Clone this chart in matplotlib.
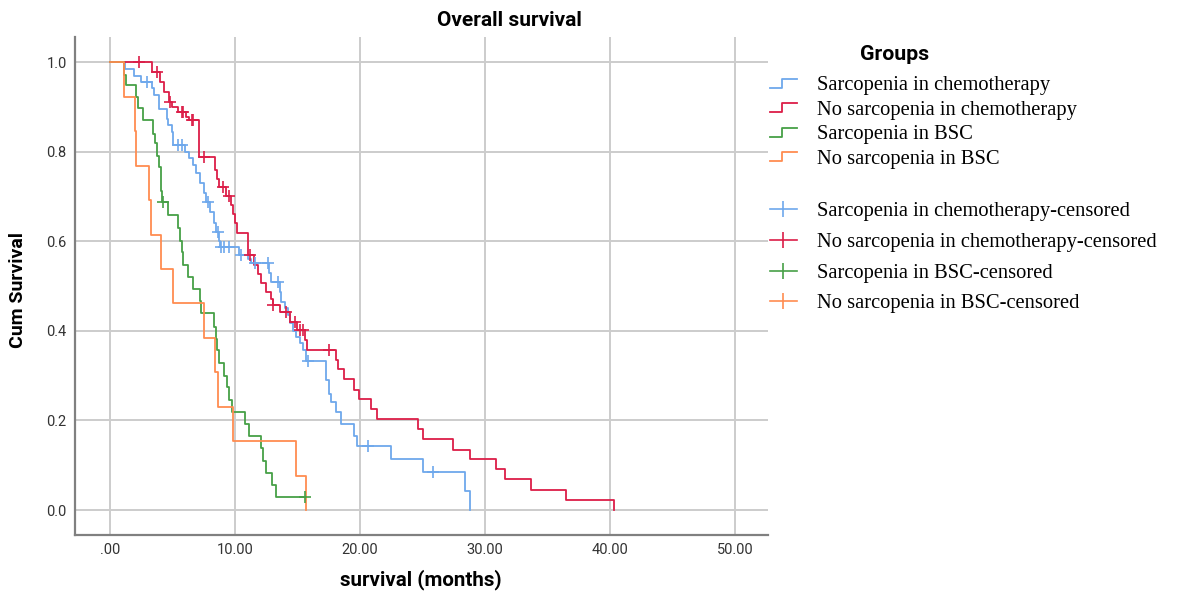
import numpy as np
import matplotlib
matplotlib.use("Agg")
import matplotlib.pyplot as plt
from matplotlib.lines import Line2D
from matplotlib.legend_handler import HandlerBase

# Kaplan-Meier steps (time in months, cumulative survival)
blue_t = [0, 1.2, 1.9, 2.45, 3.35, 3.5, 3.9, 3.95, 4.55, 4.6, 4.95, 5.0, 5.05, 6.0, 6.3, 6.6, 6.9, 7.2, 7.5, 7.7,
          8.0, 8.3, 8.45, 8.7, 8.8, 10.35, 11.07, 11.3, 12.75, 12.9, 13.6, 13.7, 14.0, 14.2, 14.4, 14.6, 14.9, 15.2,
          15.4, 15.7, 17.25, 17.3, 17.5, 17.7, 18.1, 18.5, 19.5, 19.75, 22.5, 25.0, 28.4, 28.8]
blue_s = [1.0, 0.985, 0.97, 0.955, 0.941, 0.926, 0.911, 0.896, 0.874, 0.859, 0.845, 0.83, 0.815, 0.80, 0.785, 0.77,
          0.752, 0.73, 0.707, 0.688, 0.666, 0.64, 0.62, 0.60, 0.588, 0.569, 0.56, 0.551, 0.53, 0.508, 0.487, 0.465,
          0.45, 0.435, 0.417, 0.40, 0.387, 0.372, 0.357, 0.333, 0.31, 0.29, 0.26, 0.242, 0.219, 0.193, 0.165, 0.143,
          0.115, 0.0856, 0.042, 0.0]
blue_c = [2.93, 5.47, 5.73, 7.87, 8.6, 8.9, 9.15, 9.5, 10.45, 11.6, 12.65, 13.47, 15.8, 20.67, 25.87]

red_t = [0, 3.33, 4.0, 4.3, 4.7, 4.95, 5.45, 6.1, 6.3, 7.15, 8.4, 8.55, 8.7, 9.3, 9.7, 9.85, 10.0, 10.13, 11.07,
         11.5, 11.8, 12.1, 12.5, 12.9, 13.0, 13.6, 14.4, 14.98, 15.6, 15.78, 18.05, 18.2, 18.7, 19.5, 19.95, 20.85,
         21.33, 24.6, 25.0, 27.4, 28.8, 30.9, 31.6, 33.7, 36.5, 40.3]
red_s = [1.0, 0.978, 0.956, 0.933, 0.911, 0.90, 0.889, 0.878, 0.87, 0.789, 0.76, 0.74, 0.72, 0.70, 0.68, 0.66, 0.64,
         0.618, 0.569, 0.547, 0.528, 0.506, 0.487, 0.472, 0.458, 0.443, 0.42, 0.402, 0.379, 0.358, 0.336, 0.314,
         0.292, 0.269, 0.247, 0.225, 0.2025, 0.18, 0.158, 0.135, 0.113, 0.091, 0.0685, 0.0446, 0.022, 0.0]
red_c = [2.35, 3.73, 4.8, 5.73, 5.87, 6.53, 6.67, 7.55, 9.05, 9.5, 11.2, 13.07, 14.1, 14.8, 15.2, 15.4, 17.5]

green_t = [0, 1.15, 1.3, 2.1, 2.2, 2.6, 3.4, 3.6, 3.75, 3.9, 4.05, 4.1, 4.15, 4.65, 5.45, 5.6, 5.75, 5.85, 6.2, 6.6,
           7.2, 7.25, 8.3, 8.5, 8.55, 8.72, 9.12, 9.39, 9.55, 9.73, 10.8, 11.15, 12.05, 12.27, 12.5, 12.93, 13.28]
green_s = [1.0, 0.972, 0.949, 0.922, 0.897, 0.87, 0.84, 0.82, 0.79, 0.766, 0.74, 0.713, 0.687, 0.658, 0.63, 0.60,
           0.575, 0.547, 0.52, 0.493, 0.466, 0.439, 0.409, 0.382, 0.357, 0.329, 0.30, 0.275, 0.246, 0.219, 0.193,
           0.165, 0.138, 0.11, 0.083, 0.056, 0.028]
green_c = [4.2, 15.6]

orange_t = [0, 1.1, 2.0, 2.1, 3.1, 3.3, 4.1, 5.0, 7.5, 8.4, 8.6, 9.8, 14.9, 15.7]
orange_s = [1.0, 0.923, 0.846, 0.769, 0.692, 0.615, 0.538, 0.462, 0.385, 0.308, 0.231, 0.154, 0.077, 0.0]
orange_c = []

groups = ["Sarcopenia in chemotherapy", "No sarcopenia in chemotherapy",
          "Sarcopenia in BSC", "No sarcopenia in BSC"]
colors = ["#6ea8ec", "#dc1e48", "#47a047", "#ff8c50"]
x_ticks = [0, 10, 20, 30, 40, 50]
x_ticklabels = [".00", "10.00", "20.00", "30.00", "40.00", "50.00"]
y_ticks = [0.0, 0.2, 0.4, 0.6, 0.8, 1.0]


class StepHandler(HandlerBase):
    # small "_|‾" icon like SPSS uses for survival lines
    def create_artists(self, legend, orig_handle, xdescent, ydescent, width, height, fontsize, trans):
        x0, y0 = -xdescent, -ydescent
        xs = [x0, x0 + 0.45 * width, x0 + 0.45 * width, x0 + width]
        ys = [y0 + 0.2 * height, y0 + 0.2 * height, y0 + 0.8 * height, y0 + 0.8 * height]
        ln = Line2D(xs, ys, color=orig_handle.get_color(), lw=orig_handle.get_linewidth())
        ln.set_transform(trans)
        return [ln]


fig = plt.figure(figsize=(11.85, 5.97), dpi=100)
ax = fig.add_axes([0.0633, 0.1039, 0.5848, 0.834])

series = [(blue_t, blue_s, blue_c), (red_t, red_s, red_c),
          (green_t, green_s, green_c), (orange_t, orange_s, orange_c)]
step_lines = []
cens_handles = []
for (t, s, c), col in zip(series, colors):
    t = np.array(t, dtype=float)
    s = np.array(s, dtype=float)
    if len(c) and max(c) > t[-1]:
        t = np.append(t, max(c) + 0.1)
        s = np.append(s, s[-1])
    ln, = ax.step(t, s, where="post", color=col, lw=1.3, zorder=3)
    step_lines.append(ln)
    if len(c):
        idx = np.searchsorted(t, c, side="right") - 1
        ax.plot(c, s[idx], ls="none", marker="+", ms=8, mew=1.2, color=col, zorder=4)
    cens_handles.append(Line2D([], [], color=col, lw=1.2, marker="|", ms=11, mew=1.2))

ax.set_xlim(-2.8, 52.64)
ax.set_ylim(-0.0557, 1.0558)
ax.set_xticks(x_ticks)
ax.set_xticklabels(x_ticklabels)
ax.set_yticks(y_ticks)
ax.set_yticklabels([f"{v:.1f}" for v in y_ticks])
ax.tick_params(length=0, labelsize=10.5, labelcolor="#333333", pad=6)
for lab in ax.get_xticklabels() + ax.get_yticklabels():
    lab.set_family("Roboto")
ax.grid(True, color="#cccccc", lw=1.4)
ax.set_axisbelow(True)
for side in ["top", "right"]:
    ax.spines[side].set_visible(False)
for side in ["left", "bottom"]:
    ax.spines[side].set_color("#808080")
    ax.spines[side].set_linewidth(1.6)

ax.set_xlabel("survival (months)", fontsize=14.8, fontweight="bold", family="Roboto", va="center")
ax.xaxis.set_label_coords(0.4985, -0.0904)
ax.set_ylabel("Cum Survival", fontsize=14, fontweight="bold", family="Roboto")
ax.yaxis.set_label_coords(-0.07, 0.492)

fig.text(509 / 1185, 1 - 20 / 597, "Overall survival", ha="center", va="center",
         fontsize=15, fontweight="bold", family="Roboto")
fig.text(895 / 1185, 1 - 55 / 597, "Groups", ha="center", va="center",
         fontsize=15.3, fontweight="bold", family="Roboto")

leg_font = dict(family="Liberation Serif", size=14.8)
leg1 = ax.legend(step_lines, groups, loc="upper left", bbox_to_anchor=(770 / 1185, 1 - 76 / 597),
                 bbox_transform=fig.transFigure, frameon=False, borderpad=0, borderaxespad=0,
                 handlelength=1.3, handletextpad=1.0, labelspacing=0.25, prop=leg_font,
                 handler_map={ln: StepHandler() for ln in step_lines})
ax.add_artist(leg1)
ax.legend(cens_handles, [g + "-censored" for g in groups], loc="upper left",
          bbox_to_anchor=(770 / 1185, 1 - 202 / 597), bbox_transform=fig.transFigure,
          frameon=False, borderpad=0, borderaxespad=0, handlelength=1.3, handletextpad=1.0,
          labelspacing=0.55, prop=leg_font)

fig.savefig("out.png", dpi=100)
